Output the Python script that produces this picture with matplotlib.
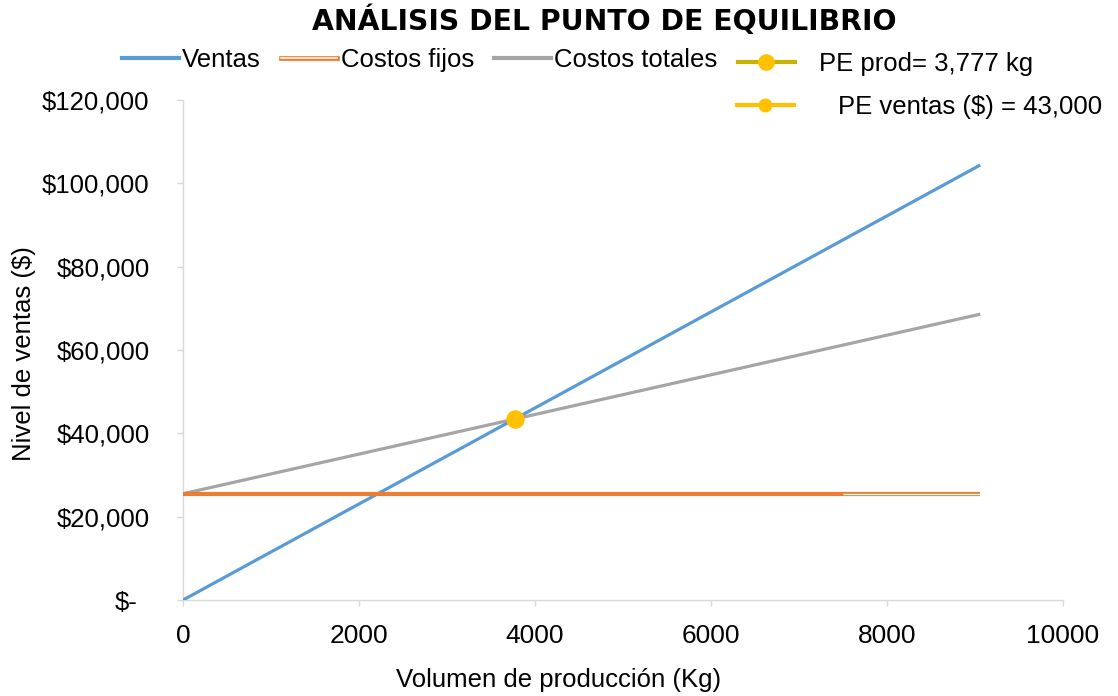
import matplotlib
matplotlib.use("Agg")
import matplotlib.pyplot as plt
from matplotlib.lines import Line2D
from matplotlib.legend_handler import HandlerTuple
from matplotlib.ticker import FuncFormatter
from matplotlib.transforms import ScaledTranslation

plt.rcParams['font.family'] = ['Liberation Sans', 'DejaVu Sans']

# ---- data ----
volumen = [0, 9060]                 # kg
ventas = [0, 104400]                # $
costos_fijos = [25500, 25500]       # $
costos_totales = [25500, 68600]     # $
pe_prod_x = [3777]
pe_prod_y = [43500]
pe_ventas_x = [3777]
pe_ventas_y = [43500]
x_ticks = [0, 2000, 4000, 6000, 8000, 10000]
y_ticks = [0, 20000, 40000, 60000, 80000, 100000, 120000]
fijos_double_from = 7500            # where the fixed-cost line turns into a double line

title = "ANÁLISIS DEL PUNTO DE EQUILIBRIO"
labels = ["Ventas", "Costos fijos", "Costos totales",
          "PE prod= 3,777 kg", "PE ventas ($) = 43,000"]

# ---- colours ----
c_blue = '#5B9BD5'
c_orange = '#ED7D31'
c_gray = '#A5A5A5'
c_gold = '#FFC000'
c_olive = '#C9B300'
c_axis = '#D9D9D9'

W, H, DPI = 1118, 696, 100
fig = plt.figure(figsize=(W / DPI, H / DPI), dpi=DPI)
ax = fig.add_axes([183 / W, 1 - 600 / H, 880 / W, 500 / H])

ax.plot(volumen, ventas, color=c_blue, lw=2.3, solid_capstyle='butt', zorder=3)
ax.plot(volumen, costos_totales, color=c_gray, lw=2.3, solid_capstyle='butt', zorder=2)
ax.plot(volumen, costos_fijos, color=c_orange, lw=3.0, solid_capstyle='butt', zorder=4)
ax.plot([fijos_double_from, volumen[-1]], [costos_fijos[0], costos_fijos[-1]],
        color='white', lw=0.9, solid_capstyle='butt', zorder=5)
ax.plot(pe_prod_x, pe_prod_y, 'o', color=c_gold, ms=12, zorder=6)
ax.plot(pe_ventas_x, pe_ventas_y, 'o', color=c_gold, ms=12, zorder=7)

ax.set_xlim(0, 10000)
ax.set_ylim(0, 120000)
ax.set_xticks(x_ticks)
ax.set_yticks(y_ticks)
ax.xaxis.set_major_formatter(FuncFormatter(lambda v, p: f"{v:.0f}"))
ax.yaxis.set_major_formatter(FuncFormatter(lambda v, p: "$-" if v == 0 else f"${v:,.0f}"))

for s in ['top', 'right']:
    ax.spines[s].set_visible(False)
for s in ['left', 'bottom']:
    ax.spines[s].set_color(c_axis)
    ax.spines[s].set_linewidth(1.0)

ax.tick_params(axis='y', length=4, width=1, color=c_axis, pad=20, labelsize=18.5, labelcolor='black')
ax.tick_params(axis='x', length=4, width=1, color=c_axis, pad=13, labelsize=19, labelcolor='black')

fig.canvas.draw()
zero_lbl = ax.yaxis.get_major_ticks()[0].label1
zero_lbl.set_transform(zero_lbl.get_transform() + ScaledTranslation(-12 / DPI, 0, fig.dpi_scale_trans))

# ---- titles / labels ----
fig.text(604 / W, 1 - 21 / H, title, ha='center', va='center', fontsize=20.3,
         fontweight='bold', family=['DejaVu Sans'])
fig.text(559 / W, 1 - 680 / H, "Volumen de producción (Kg)", ha='center', va='center', fontsize=18.5)
fig.text(24 / W, 1 - 354 / H, "Nivel de ventas ($)", ha='center', va='center', fontsize=18.5,
         rotation=90)

# ---- legends ----
h_ventas = Line2D([], [], color=c_blue, lw=3)
h_fijos = (Line2D([], [], color=c_orange, lw=3.4), Line2D([], [], color='white', lw=1.1))
h_tot = Line2D([], [], color=c_gray, lw=3)
h_pe_prod = Line2D([], [], color=c_olive, lw=3, marker='o', mfc=c_gold, mec=c_gold, ms=11)
h_pe_ventas = Line2D([], [], color=c_gold, lw=3, marker='o', mfc=c_gold, mec=c_gold, ms=9)

common = dict(frameon=False, borderpad=0, borderaxespad=0, fontsize=18.5,
              handlelength=2.2, numpoints=1)
leg1 = fig.legend([h_ventas, h_fijos, h_tot], labels[:3], loc='center left',
                  bbox_to_anchor=(122 / W, 1 - 60 / H), ncol=3, handletextpad=0.12,
                  columnspacing=0.8, handler_map={tuple: HandlerTuple(ndivide=1, pad=0)},
                  **common)
leg2 = fig.legend([h_pe_prod], [labels[3]], loc='center left',
                  bbox_to_anchor=(738 / W, 1 - 64 / H), handletextpad=0.95, **common)
leg3 = fig.legend([h_pe_ventas], [labels[4]], loc='center left',
                  bbox_to_anchor=(737 / W, 1 - 107 / H), handletextpad=1.75, **common)

fig.savefig("out.png", dpi=DPI)
